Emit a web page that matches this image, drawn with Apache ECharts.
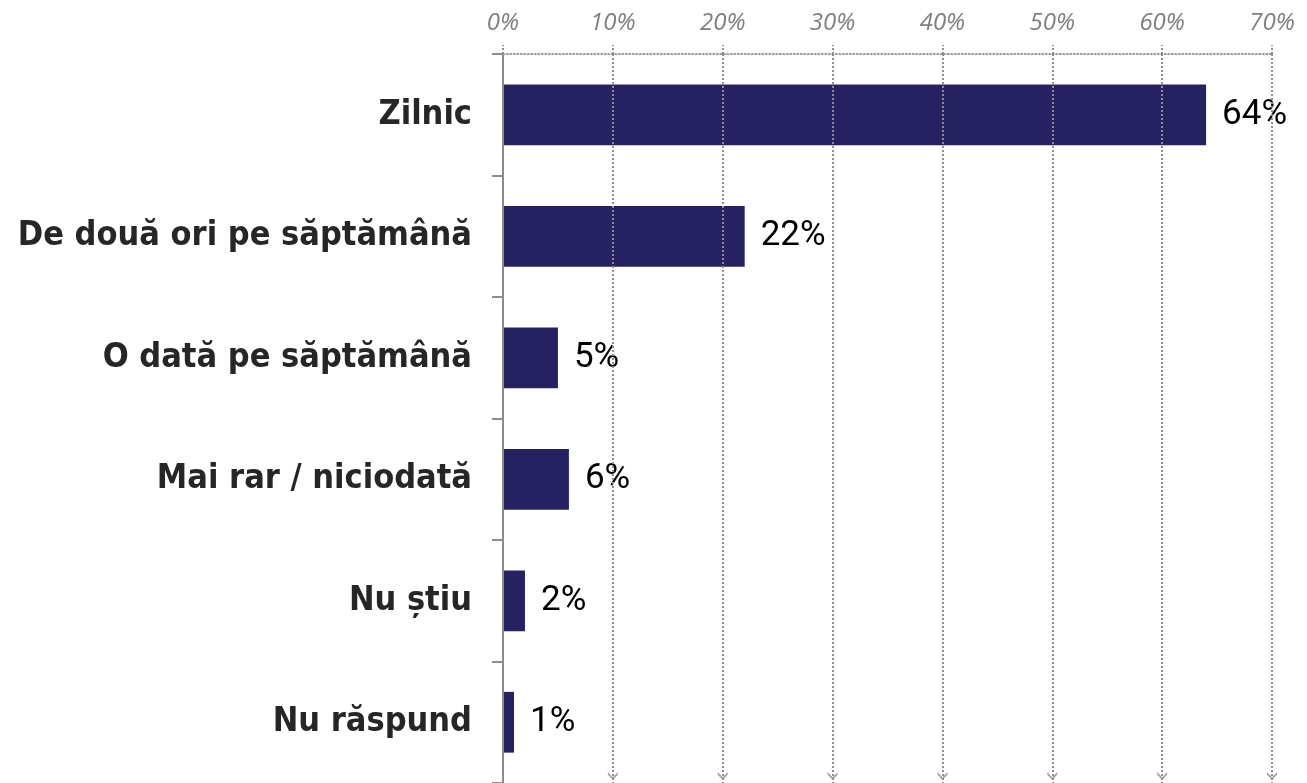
<!DOCTYPE html>
<html>
<head>
<meta charset="utf-8">
<script src="https://cdn.jsdelivr.net/npm/echarts@6/dist/echarts.min.js"></script>
<style>
  html, body { margin: 0; padding: 0; background: #fff; }
  #chart { width: 1307px; height: 783px; }
</style>
</head>
<body>
<div id="chart"></div>
<script>
// categorii si procente
const categories = ['Zilnic', 'De două ori pe săptămână', 'O dată pe săptămână', 'Mai rar / niciodată', 'Nu știu', 'Nu răspund'];
const values = [64, 22, 5, 6, 2, 1];
const arrowTicks = [10, 20, 30, 40, 50, 60, 70];

const chart = echarts.init(document.getElementById('chart'));

// sageata mica (v) la capatul de jos al liniilor punctate
const chevron = 'path://M0,0 L5,5 L10,0 L10,2.5 L5,7.5 L0,2.5 Z';

const option = {
  animation: false,
  grid: {
    left: 503,
    right: 35,
    top: 54,
    height: 730.5,
    containLabel: false,
  },
  xAxis: {
    type: 'value',
    position: 'top',
    min: 0,
    max: 70,
    interval: 10,
    z: 4,
    axisLine: {
      show: true,
      onZero: false,
      lineStyle: { color: '#7a7a7a', type: [1.5, 2], width: 1.5 },
    },
    axisTick: {
      show: true,
      length: 9,
      lineStyle: { color: '#909090', type: [2, 2], width: 2 },
    },
    axisLabel: {
      formatter: '{value}%',
      margin: 19,
      fontFamily: 'Open Sans',
      fontStyle: 'italic',
      fontSize: 24,
      color: '#7f7f7f',
    },
    splitLine: {
      show: true,
      lineStyle: { color: '#909090', type: [2, 2], width: 2 },
    },
  },
  yAxis: [
    {
      type: 'category',
      data: categories,
      inverse: true,
      z: 5,
      axisLine: {
        show: true,
        lineStyle: { color: '#8c8c8c', width: 2 },
      },
      axisTick: {
        show: true,
        length: 11,
        lineStyle: { color: '#8c8c8c', width: 2 },
      },
      axisLabel: {
        margin: 31,
        fontFamily: 'DejaVu Sans Condensed',
        fontWeight: 'bold',
        fontSize: 34,
        color: '#262626',
      },
    },
    {
      // axa ascunsa pentru sageti
      type: 'value',
      min: 0,
      max: 1,
      show: false,
    },
  ],
  series: [
    {
      type: 'bar',
      data: values,
      barWidth: '50%',
      z: 3,
      itemStyle: { color: '#262160' },
      label: {
        show: true,
        position: 'right',
        distance: 16,
        formatter: '{c}%',
        fontFamily: 'Roboto',
        fontSize: 35,
        color: '#000',
      },
    },
    {
      type: 'scatter',
      yAxisIndex: 1,
      silent: true,
      symbol: chevron,
      symbolSize: [10, 8],
      symbolOffset: [0, -7],
      itemStyle: { color: '#909090' },
      data: arrowTicks.map((v) => [v, 0]),
    },
  ],
};

chart.setOption(option);
</script>
</body>
</html>
